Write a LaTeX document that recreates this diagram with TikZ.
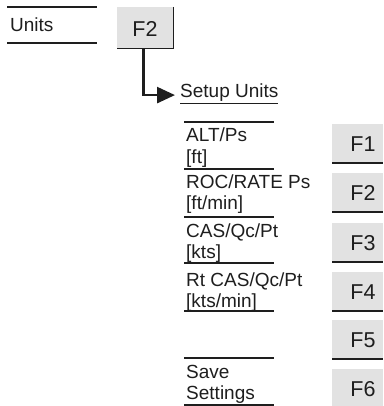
\documentclass[tikz,border=0pt]{standalone}
\usepackage{fontspec}
\setmainfont{Liberation Sans}
\usetikzlibrary{arrows.meta}
\definecolor{keygray}{RGB}{226,226,226}
\definecolor{inkc}{RGB}{30,30,30}
\begin{document}
\begin{tikzpicture}[x=1pt,y=-1pt,
  lbl/.style={anchor=base west,inner sep=0pt,text=inkc,font=\fontsize{19}{21}\selectfont},
  keylbl/.style={inner sep=0pt,text=inkc,font=\fontsize{21.5}{24}\selectfont},
  sep/.style={draw=inkc,line width=1.3pt},
  keybox/.style={fill=keygray,draw=none},
  edge/.style={draw=inkc,line width=1.6pt}]
\useasboundingbox (0,0) rectangle (383,406);
% Units row
\draw[sep] (7,7) -- (97,7);
\draw[sep] (7,43) -- (97,43);
\node[lbl] (units) at (10,32) {Units};
\node[keybox,minimum width=56pt,minimum height=41pt,anchor=north west] (f2top) at (117,7) {};
\node[keylbl] (f2toplbl) at (145,29) {F2};
\draw[edge] (f2top.north east) -- (f2top.south east) -- (f2top.south west);
% Setup Units
\node[lbl] (setup) at (180,98) {\underline{Setup Units}};
\draw[draw=inkc,line width=2.6pt,-{Triangle[length=18pt,width=16pt]}]
  ([xshift=-2pt]f2top.south) |- ([xshift=-5pt,yshift=-1pt]setup.west);
% left column separators
\foreach \y in {122,169,217,263,311,358,405}
  \draw[sep] (184,\y) -- (274,\y);
\node[lbl] (alt1) at (186,142) {ALT/Ps};
\node[lbl] (alt2) at (186,163) {[ft]};
\node[lbl] (roc1) at (186,188) {ROC/RATE Ps};
\node[lbl] (roc2) at (186,209) {[ft/min]};
\node[lbl] (cas1) at (186,237) {CAS/Qc/Pt};
\node[lbl] (cas2) at (186,258) {[kts]};
\node[lbl] (rt1) at (186,286) {Rt CAS/Qc/Pt};
\node[lbl] (rt2) at (186,307) {[kts/min]};
\node[lbl] (save1) at (186,378) {Save};
\node[lbl] (save2) at (186,399) {Settings};
% function keys
\foreach \n/\b in {1/163,2/212,3/262,4/311,5/359,6/408}{
  \fill[keygray] (332,\b-39) rectangle (383,\b);
  \draw[edge] (332,\b) -- (383,\b);
  \node[keylbl] (fk\n) at (363,\b-19) {F\n};
}
\end{tikzpicture}
\end{document}
